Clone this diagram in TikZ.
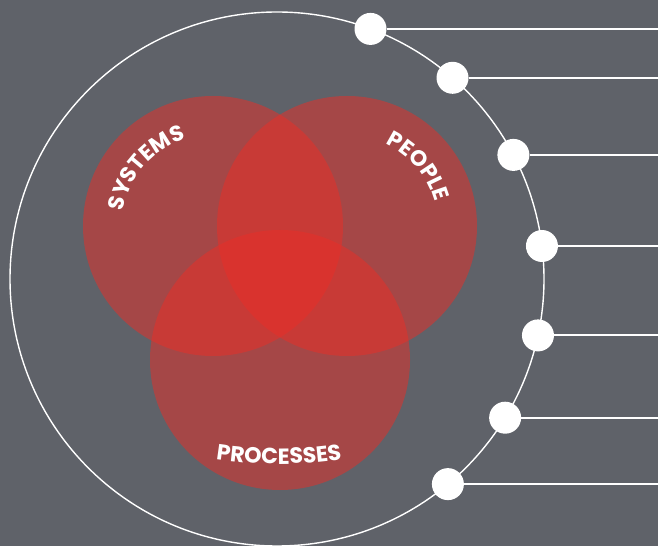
\documentclass[tikz,border=0pt]{standalone}
\usepackage{fontspec}
\usetikzlibrary{decorations.text}
\newfontfamily\labfont{Poppins}
\definecolor{slate}{RGB}{95,98,105}
\definecolor{vennred}{RGB}{235,46,39}
\newcommand{\labfmt}{\labfont\bfseries\fontsize{22}{22}\selectfont\color{white}}
\begin{document}
\begin{tikzpicture}[
  x=1pt, y=1pt,
  ring/.style={draw=white, line width=1.4pt, circle, minimum size=534pt, inner sep=0pt},
  blob/.style={circle, fill=vennred, fill opacity=0.5, minimum size=260pt, inner sep=0pt},
  dot/.style={circle, fill=white, minimum size=32pt, inner sep=0pt},
  lead/.style={draw=white, line width=2pt},
  lab/.style={decorate, decoration={text along path, text align=center, text={|\labfmt|#1}}}
]

% --- Background and frame ---
\fill[slate] (0,0) rectangle (658,546);
\useasboundingbox (0,0) rectangle (658,546);
\coordinate (edge) at (658,0);

% --- Outer ring ---
\node[ring] (rim) at (277,267) {};

% --- Venn circles ---
\node[blob] (sys) at (213,320) {};
\node[blob] (peo) at (347,320) {};
\node[blob] (pro) at (280,186) {};

% --- Labels (curved) ---
\path[lab=SYSTEMS] (sys.center) ++(190:91) arc[start angle=190, end angle=88, radius=91];
\path[lab=PEOPLE] (peo.center) ++(90:91) arc[start angle=90, end angle=-10, radius=91];
\path[lab=PROCESSES] (279,490) ++(250:408) arc[start angle=250, end angle=290, radius=408];

% --- Dots on the ring and leader lines ---
\foreach \a [count=\i] in {69.5,48.9,27.7,7.1,-12.2,-31.3,-50.2} {
  \node[dot] (d\i) at ([shift={(\a:267)}]rim.center) {};
  \coordinate (e\i) at (d\i -| edge);
  \draw[lead] (d\i) -- (e\i);
}

\end{tikzpicture}
\end{document}
